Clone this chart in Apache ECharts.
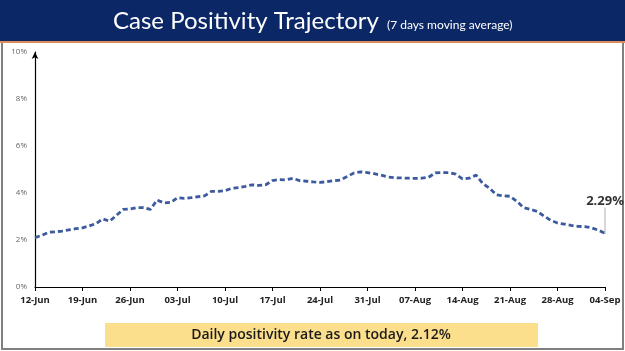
<!DOCTYPE html>
<html>
<head>
<meta charset="utf-8">
<script src="https://cdn.jsdelivr.net/npm/echarts@6/dist/echarts.min.js"></script>
<style>
    html, body {margin: 0; padding: 0; background: #fff;}
    #chart {width: 625px; height: 351px;}
</style>
</head>
<body>
<div id="chart"></div>
<script>
// 7 day moving average of positivity, 12-Jun .. 04-Sep (one value per day)
const positivity = [
    2.10, 2.20, 2.33, 2.35, 2.38, 2.43, 2.48, 2.52, 2.60, 2.70, 2.90, 2.80, 3.05,
    3.30, 3.32, 3.38, 3.38, 3.30, 3.70, 3.58, 3.60, 3.80, 3.77, 3.80, 3.84, 3.88,
    4.07, 4.07, 4.10, 4.20, 4.23, 4.28, 4.35, 4.32, 4.35, 4.53, 4.57, 4.56, 4.62,
    4.53, 4.50, 4.47, 4.45, 4.48, 4.52, 4.55, 4.70, 4.85, 4.90, 4.87, 4.82, 4.76,
    4.68, 4.65, 4.64, 4.63, 4.62, 4.63, 4.67, 4.86, 4.87, 4.87, 4.80, 4.60, 4.63,
    4.76, 4.40, 4.20, 3.92, 3.88, 3.86, 3.65, 3.38, 3.30, 3.22, 3.02, 2.84, 2.72,
    2.68, 2.62, 2.58, 2.57, 2.52, 2.42, 2.29
];
const months = ['Jan', 'Feb', 'Mar', 'Apr', 'May', 'Jun', 'Jul', 'Aug', 'Sep', 'Oct', 'Nov', 'Dec'];
const yTicks = [0, 2, 4, 6, 8, 10];
const titleText = 'Case Positivity Trajectory';
const subtitleText = '(7 days moving average)';
const footnote = 'Daily positivity rate as on today, 2.12%';

const days = positivity.map((v, i) => {
    const d = new Date(2020, 5, 12 + i);
    return String(d.getDate()).padStart(2, '0') + '-' + months[d.getMonth()];
});
const last = positivity.length - 1;

// only the latest point gets a (tiny) symbol so it can carry the callout label
const lineData = positivity.map((v, i) => (i === last
    ? {value: v, symbol: 'circle', symbolSize: 1, label: {show: true}}
    : v));

const chart = echarts.init(document.getElementById('chart'));

chart.setOption({
    animation: false,
    grid: {left: 35, right: 20, top: 52, bottom: 64, containLabel: false},
    graphic: [
        {type: 'rect', shape: {x: 2, y: 1, width: 621, height: 348}, style: {fill: 'none', stroke: '#808080', lineWidth: 2}, z: 0},
        {type: 'rect', shape: {x: 0, y: 0, width: 625, height: 41}, style: {fill: '#0c2766'}, z: 1},
        {type: 'rect', shape: {x: 0, y: 41, width: 625, height: 2}, style: {fill: '#e08a5a'}, z: 1},
        {type: 'rect', shape: {x: 105, y: 323, width: 433, height: 24}, style: {fill: '#fcdf8c'}, z: 1},
        {
            type: 'text', x: 321, y: 335, z: 2,
            style: {text: footnote, fill: '#1a1a1a', font: '600 14px "Open Sans"', align: 'center', verticalAlign: 'middle'}
        },
        {
            type: 'text', x: 113, y: 21, z: 2,
            style: {text: titleText, fill: '#ffffff', font: '24px Lato', verticalAlign: 'middle'}
        },
        {
            type: 'text', x: 387, y: 25, z: 2,
            style: {text: subtitleText, fill: '#ffffff', font: '12px Lato', verticalAlign: 'middle'}
        }
    ],
    xAxis: {
        type: 'category',
        data: days,
        boundaryGap: false,
        axisLine: {lineStyle: {color: '#000', width: 1.2}},
        axisTick: {show: true, interval: 6, length: 4, lineStyle: {color: '#000'}},
        axisLabel: {
            interval: 6, color: '#222', fontSize: 9.5, fontWeight: 'bold',
            fontFamily: '"Open Sans"', margin: 8
        },
        splitLine: {show: false}
    },
    yAxis: {
        type: 'value',
        min: yTicks[0],
        max: yTicks[yTicks.length - 1],
        interval: 2,
        axisLine: {show: true, lineStyle: {color: '#000', width: 1.2}, symbol: ['none', 'arrow'], symbolSize: [5, 7]},
        axisTick: {show: false},
        splitLine: {show: false},
        axisLabel: {formatter: '{value}%', color: '#666', fontSize: 8, fontFamily: '"Open Sans"', margin: 8}
    },
    series: [
        {
            type: 'line',
            data: lineData,
            symbol: 'none',
            showSymbol: true,
            itemStyle: {color: '#3c5a9e'},
            lineStyle: {color: '#3c5a9e', width: 2.8, type: [5, 3]},
            label: {
                show: false,
                formatter: p => p.value.toFixed(2) + '%',
                color: '#333', fontSize: 13, fontWeight: 'bold', fontFamily: '"Open Sans"'
            },
            labelLine: {show: true, lineStyle: {color: '#b0b0b0', width: 1}},
            labelLayout: p => (p.dataIndex === last
                ? {x: 605, y: 201, align: 'center', verticalAlign: 'middle'}
                : {})
        }
    ]
});
</script>
</body>
</html>
